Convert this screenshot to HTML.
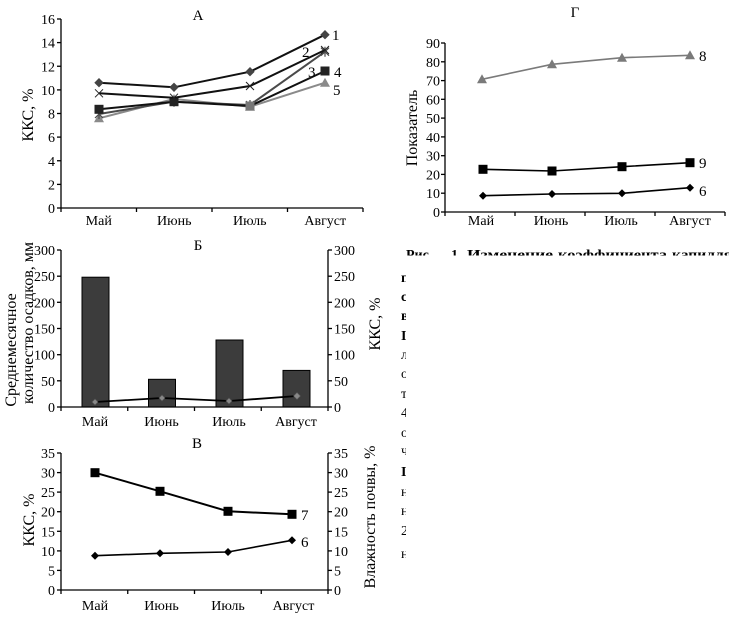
<!DOCTYPE html>
<html><head><meta charset="utf-8">
<style>
html,body{margin:0;padding:0;background:#fff;}
svg{display:block;}
text{font-family:"Liberation Serif","DejaVu Serif",serif;fill:#000;}
.t{font-size:14px;}
.ax{stroke:#000;stroke-width:1.3;fill:none;}
</style></head>
<body>
<svg width="729" height="624" viewBox="0 0 729 624" xmlns="http://www.w3.org/2000/svg">
<defs>
<clipPath id="c1"><rect x="400" y="240" width="329" height="15.5"/></clipPath>
<clipPath id="c2"><rect x="398" y="260" width="8" height="310"/></clipPath>
</defs>

<!-- ============ PANEL A ============ -->
<text x="198" y="20" font-size="15" text-anchor="middle">А</text>
<line class="ax" x1="61" y1="19" x2="61" y2="208"/>
<line class="ax" x1="61" y1="208" x2="363" y2="208"/>
<g class="ax">
<line x1="57" y1="208" x2="61" y2="208"/><line x1="57" y1="184.4" x2="61" y2="184.4"/>
<line x1="57" y1="160.75" x2="61" y2="160.75"/><line x1="57" y1="137.1" x2="61" y2="137.1"/>
<line x1="57" y1="113.5" x2="61" y2="113.5"/><line x1="57" y1="89.9" x2="61" y2="89.9"/>
<line x1="57" y1="66.25" x2="61" y2="66.25"/><line x1="57" y1="42.6" x2="61" y2="42.6"/>
<line x1="57" y1="19" x2="61" y2="19"/>
<line x1="61" y1="208" x2="61" y2="212"/><line x1="136.5" y1="208" x2="136.5" y2="212"/>
<line x1="212" y1="208" x2="212" y2="212"/><line x1="287.5" y1="208" x2="287.5" y2="212"/>
<line x1="363" y1="208" x2="363" y2="212"/>
</g>
<g class="t" text-anchor="end">
<text x="55" y="213">0</text><text x="55" y="189.4">2</text><text x="55" y="165.75">4</text>
<text x="55" y="142.1">6</text><text x="55" y="118.5">8</text><text x="55" y="94.9">10</text>
<text x="55" y="71.25">12</text><text x="55" y="47.6">14</text><text x="55" y="24">16</text>
</g>
<g class="t" text-anchor="middle">
<text x="98.75" y="225">Май</text><text x="174.25" y="225">Июнь</text>
<text x="249.75" y="225">Июль</text><text x="325.25" y="225">Август</text>
</g>
<text transform="translate(33,115) rotate(-90)" font-size="16" text-anchor="middle">ККС, %</text>

<!-- series 5 gray triangle -->
<polyline points="99,118.3 174,99 250,106.7 325,82.7" fill="none" stroke="#8a8a8a" stroke-width="2"/>
<g fill="#8a8a8a">
<polygon points="99,113.3 104,122.3 94,122.3"/><polygon points="174,94 179,103 169,103"/>
<polygon points="250,101.7 255,110.7 245,110.7"/><polygon points="325,77.7 330,86.7 320,86.7"/>
</g>
<!-- series 3 dark gray asterisk -->
<polyline points="99,114 174,101.7 250,105 325,51.7" fill="none" stroke="#4a4a4a" stroke-width="2"/>
<g stroke="#4a4a4a" stroke-width="1.2">
<path d="M95,110 L103,118 M103,110 L95,118 M99,109 L99,119"/>
<path d="M170,97.7 L178,105.7 M178,97.7 L170,105.7 M174,96.7 L174,106.7"/>
<path d="M246,101 L254,109 M254,101 L246,109 M250,100 L250,110"/>
<path d="M321,47.7 L329,55.7 M329,47.7 L321,55.7 M325,46.7 L325,56.7"/>
</g>
<!-- series 4 black square -->
<polyline points="99,109.3 174,101.7 250,106 325,71" fill="none" stroke="#111" stroke-width="2"/>
<g fill="#222">
<rect x="94.5" y="104.8" width="9" height="9"/><rect x="169.5" y="97.2" width="9" height="9"/>
<rect x="245.5" y="101.5" width="9" height="9" fill="#777"/><rect x="320.5" y="66.5" width="9" height="9"/>
</g>
<!-- series 2 black x -->
<polyline points="99,93.3 174,97.7 250,86 325,50" fill="none" stroke="#111" stroke-width="2"/>
<g stroke="#222" stroke-width="1">
<path d="M95,89.3 L103,97.3 M103,89.3 L95,97.3"/>
<path d="M170,93.7 L178,101.7 M178,93.7 L170,101.7"/>
<path d="M246,82 L254,90 M254,82 L246,90"/>
<path d="M321,46 L329,54 M329,46 L321,54"/>
</g>
<!-- series 1 diamond -->
<polyline points="99,82.7 174,87.3 250,71.7 325,34.7" fill="none" stroke="#111" stroke-width="2"/>
<g fill="#444">
<polygon points="99,78 103.7,82.7 99,87.4 94.3,82.7"/>
<polygon points="174,82.6 178.7,87.3 174,92 169.3,87.3"/>
<polygon points="250,67 254.7,71.7 250,76.4 245.3,71.7"/>
<polygon points="325,30 329.7,34.7 325,39.4 320.3,34.7"/>
</g>
<g font-size="15">
<text x="332" y="40">1</text><text x="302" y="57">2</text><text x="308" y="77">3</text>
<text x="334" y="77">4</text><text x="333" y="95">5</text>
</g>

<!-- ============ PANEL Г ============ -->
<text x="575" y="17" font-size="15" text-anchor="middle">Г</text>
<line class="ax" x1="445" y1="43" x2="445" y2="212"/>
<line class="ax" x1="445" y1="212" x2="725" y2="212"/>
<g class="ax">
<line x1="441" y1="212" x2="445" y2="212"/><line x1="441" y1="193.2" x2="445" y2="193.2"/>
<line x1="441" y1="174.4" x2="445" y2="174.4"/><line x1="441" y1="155.7" x2="445" y2="155.7"/>
<line x1="441" y1="136.9" x2="445" y2="136.9"/><line x1="441" y1="118.1" x2="445" y2="118.1"/>
<line x1="441" y1="99.3" x2="445" y2="99.3"/><line x1="441" y1="80.6" x2="445" y2="80.6"/>
<line x1="441" y1="61.8" x2="445" y2="61.8"/><line x1="441" y1="43" x2="445" y2="43"/>
<line x1="445" y1="212" x2="445" y2="216"/><line x1="515" y1="212" x2="515" y2="216"/>
<line x1="585" y1="212" x2="585" y2="216"/><line x1="655" y1="212" x2="655" y2="216"/>
<line x1="725" y1="212" x2="725" y2="216"/>
</g>
<g class="t" text-anchor="end">
<text x="440" y="217">0</text><text x="440" y="198.2">10</text><text x="440" y="179.4">20</text>
<text x="440" y="160.7">30</text><text x="440" y="141.9">40</text><text x="440" y="123.1">50</text>
<text x="440" y="104.3">60</text><text x="440" y="85.6">70</text><text x="440" y="66.8">80</text>
<text x="440" y="48">90</text>
</g>
<g class="t" text-anchor="middle">
<text x="481" y="225">Май</text><text x="551" y="225">Июнь</text>
<text x="621" y="225">Июль</text><text x="690" y="225">Август</text>
</g>
<text transform="translate(417,128) rotate(-90)" font-size="16" text-anchor="middle">Показатель</text>
<!-- 8 -->
<polyline points="482,79.3 552,64.3 622,57.7 690,55.3" fill="none" stroke="#7a7a7a" stroke-width="1.6"/>
<g fill="#7a7a7a">
<polygon points="482,74.3 487,83.3 477,83.3"/><polygon points="552,59.3 557,68.3 547,68.3"/>
<polygon points="622,52.7 627,61.7 617,61.7"/><polygon points="690,50.3 695,59.3 685,59.3"/>
</g>
<!-- 9 -->
<polyline points="483,169.3 552,171 622,166.7 690,162.7" fill="none" stroke="#000" stroke-width="1.6"/>
<g fill="#000">
<rect x="478.5" y="164.8" width="9" height="9"/><rect x="547.5" y="166.5" width="9" height="9"/>
<rect x="617.5" y="162.2" width="9" height="9"/><rect x="685.5" y="158.2" width="9" height="9"/>
</g>
<!-- 6 -->
<polyline points="483,195.7 552,194 622,193.3 690,187.7" fill="none" stroke="#000" stroke-width="1.6"/>
<g fill="#000">
<polygon points="483,191.7 487,195.7 483,199.7 479,195.7"/>
<polygon points="552,190 556,194 552,198 548,194"/>
<polygon points="622,189.3 626,193.3 622,197.3 618,193.3"/>
<polygon points="690,183.7 694,187.7 690,191.7 686,187.7"/>
</g>
<g font-size="15">
<text x="699" y="61">8</text><text x="699" y="168">9</text><text x="699" y="196">6</text>
</g>

<!-- ============ PANEL Б ============ -->
<text x="198" y="250" font-size="15" text-anchor="middle">Б</text>
<g fill="#3c3c3c" stroke="#000" stroke-width="1">
<rect x="82" y="277.2" width="27" height="129.8"/>
<rect x="148.5" y="379.3" width="27" height="27.7"/>
<rect x="216" y="340" width="27" height="67"/>
<rect x="283" y="370.4" width="27" height="36.6"/>
</g>
<line class="ax" x1="61" y1="250" x2="61" y2="407"/>
<line class="ax" x1="328" y1="250" x2="328" y2="407"/>
<line class="ax" x1="61" y1="407" x2="328" y2="407"/>
<g class="ax">
<line x1="57" y1="407" x2="61" y2="407"/><line x1="57" y1="380.8" x2="61" y2="380.8"/>
<line x1="57" y1="354.7" x2="61" y2="354.7"/><line x1="57" y1="328.5" x2="61" y2="328.5"/>
<line x1="57" y1="302.3" x2="61" y2="302.3"/><line x1="57" y1="276.2" x2="61" y2="276.2"/>
<line x1="57" y1="250" x2="61" y2="250"/>
<line x1="328" y1="407" x2="332" y2="407"/><line x1="328" y1="380.8" x2="332" y2="380.8"/>
<line x1="328" y1="354.7" x2="332" y2="354.7"/><line x1="328" y1="328.5" x2="332" y2="328.5"/>
<line x1="328" y1="302.3" x2="332" y2="302.3"/><line x1="328" y1="276.2" x2="332" y2="276.2"/>
<line x1="328" y1="250" x2="332" y2="250"/>
<line x1="61" y1="407" x2="61" y2="411"/><line x1="127.75" y1="407" x2="127.75" y2="411"/>
<line x1="194.5" y1="407" x2="194.5" y2="411"/><line x1="261.25" y1="407" x2="261.25" y2="411"/>
<line x1="328" y1="407" x2="328" y2="411"/>
</g>
<g class="t" text-anchor="end">
<text x="55" y="412">0</text><text x="55" y="385.8">50</text><text x="55" y="359.7">100</text>
<text x="55" y="333.5">150</text><text x="55" y="307.3">200</text><text x="55" y="281.2">250</text>
<text x="55" y="255">300</text>
</g>
<g class="t" text-anchor="start">
<text x="334" y="412">0</text><text x="334" y="385.8">50</text><text x="334" y="359.7">100</text>
<text x="334" y="333.5">150</text><text x="334" y="307.3">200</text><text x="334" y="281.2">250</text>
<text x="334" y="255">300</text>
</g>
<g class="t" text-anchor="middle">
<text x="95" y="426">Май</text><text x="161.5" y="426">Июнь</text>
<text x="229" y="426">Июль</text><text x="296" y="426">Август</text>
</g>
<text transform="translate(16,350) rotate(-90)" font-size="16" text-anchor="middle">Среднемесячное</text>
<text transform="translate(33,323) rotate(-90)" font-size="16" text-anchor="middle">количество осадков, мм</text>
<text transform="translate(380,324) rotate(-90)" font-size="16" text-anchor="middle">ККС, %</text>
<polyline points="95,402 162,398 229,401 297,396" fill="none" stroke="#000" stroke-width="1.8"/>
<g fill="#888" stroke="#555" stroke-width="0.6">
<polygon points="95,399 98,402 95,405 92,402"/><polygon points="162,395 165,398 162,401 159,398"/>
<polygon points="229,398 232,401 229,404 226,401"/><polygon points="297,392.5 300.5,396 297,399.5 293.5,396"/>
</g>

<!-- ============ PANEL В ============ -->
<text x="197" y="448" font-size="15" text-anchor="middle">В</text>
<line class="ax" x1="61" y1="453" x2="61" y2="590"/>
<line class="ax" x1="328" y1="453" x2="328" y2="590"/>
<line class="ax" x1="61" y1="590" x2="328" y2="590"/>
<g class="ax">
<line x1="57" y1="590" x2="61" y2="590"/><line x1="57" y1="570.4" x2="61" y2="570.4"/>
<line x1="57" y1="550.9" x2="61" y2="550.9"/><line x1="57" y1="531.3" x2="61" y2="531.3"/>
<line x1="57" y1="511.7" x2="61" y2="511.7"/><line x1="57" y1="492.1" x2="61" y2="492.1"/>
<line x1="57" y1="472.6" x2="61" y2="472.6"/><line x1="57" y1="453" x2="61" y2="453"/>
<line x1="328" y1="590" x2="332" y2="590"/><line x1="328" y1="570.4" x2="332" y2="570.4"/>
<line x1="328" y1="550.9" x2="332" y2="550.9"/><line x1="328" y1="531.3" x2="332" y2="531.3"/>
<line x1="328" y1="511.7" x2="332" y2="511.7"/><line x1="328" y1="492.1" x2="332" y2="492.1"/>
<line x1="328" y1="472.6" x2="332" y2="472.6"/><line x1="328" y1="453" x2="332" y2="453"/>
<line x1="61" y1="590" x2="61" y2="594"/><line x1="127.75" y1="590" x2="127.75" y2="594"/>
<line x1="194.5" y1="590" x2="194.5" y2="594"/><line x1="261.25" y1="590" x2="261.25" y2="594"/>
<line x1="328" y1="590" x2="328" y2="594"/>
</g>
<g class="t" text-anchor="end">
<text x="55" y="595">0</text><text x="55" y="575.4">5</text><text x="55" y="555.9">10</text>
<text x="55" y="536.3">15</text><text x="55" y="516.7">20</text><text x="55" y="497.1">25</text>
<text x="55" y="477.6">30</text><text x="55" y="458">35</text>
</g>
<g class="t" text-anchor="start">
<text x="334" y="595">0</text><text x="334" y="575.4">5</text><text x="334" y="555.9">10</text>
<text x="334" y="536.3">15</text><text x="334" y="516.7">20</text><text x="334" y="497.1">25</text>
<text x="334" y="477.6">30</text><text x="334" y="458">35</text>
</g>
<g class="t" text-anchor="middle">
<text x="95" y="610">Май</text><text x="161.5" y="610">Июнь</text>
<text x="228" y="610">Июль</text><text x="293.5" y="610">Август</text>
</g>
<text transform="translate(34,520) rotate(-90)" font-size="16" text-anchor="middle">ККС, %</text>
<text transform="translate(375,517) rotate(-90)" font-size="16" text-anchor="middle">Влажность почвы, %</text>
<polyline points="95,472.7 160,491.3 228,511.3 292,514.3" fill="none" stroke="#000" stroke-width="2"/>
<g fill="#000">
<rect x="90.5" y="468.2" width="9" height="9"/><rect x="155.5" y="486.8" width="9" height="9"/>
<rect x="223.5" y="506.8" width="9" height="9"/><rect x="287.5" y="509.8" width="9" height="9"/>
</g>
<polyline points="95,555.7 160,553.3 228,552 292,540.3" fill="none" stroke="#000" stroke-width="1.6"/>
<g fill="#000">
<polygon points="95,551.7 99,555.7 95,559.7 91,555.7"/>
<polygon points="160,549.3 164,553.3 160,557.3 156,553.3"/>
<polygon points="228,548 232,552 228,556 224,552"/>
<polygon points="292,536.3 296,540.3 292,544.3 288,540.3"/>
</g>
<g font-size="15">
<text x="301" y="520">7</text><text x="301" y="547">6</text>
</g>

<!-- ============ RIGHT TEXT FRAGMENTS ============ -->
<g clip-path="url(#c1)" font-size="14" font-weight="bold">
<text x="406" y="259">Рис.</text>
<text x="451" y="259">1.</text>
<text x="467" y="259" textLength="86" lengthAdjust="spacingAndGlyphs">Изменение</text>
<text x="558" y="259" textLength="109" lengthAdjust="spacingAndGlyphs">коэффициента</text>
<text x="672" y="259" textLength="100" lengthAdjust="spacingAndGlyphs">капиллярного</text>
</g>
<g clip-path="url(#c2)" font-size="14" font-weight="bold">
<text x="401" y="282">п</text>
<text x="401" y="301">с</text>
<text x="401" y="320">в</text>
<text x="401" y="340">I</text>
<text x="401" y="359" font-weight="normal">л</text>
<text x="401" y="378" font-weight="normal">о</text>
<text x="401" y="398" font-weight="normal">т</text>
<text x="401" y="417" font-weight="normal">4</text>
<text x="401" y="437" font-weight="normal">о</text>
<text x="401" y="455" font-weight="normal">ч</text>
<text x="401" y="476">I</text>
<text x="401" y="496" font-weight="normal">н</text>
<text x="401" y="515" font-weight="normal">н</text>
<text x="401" y="535" font-weight="normal">2</text>
<text x="401" y="558" font-weight="normal">н</text>
</g>
</svg>
</body></html>
